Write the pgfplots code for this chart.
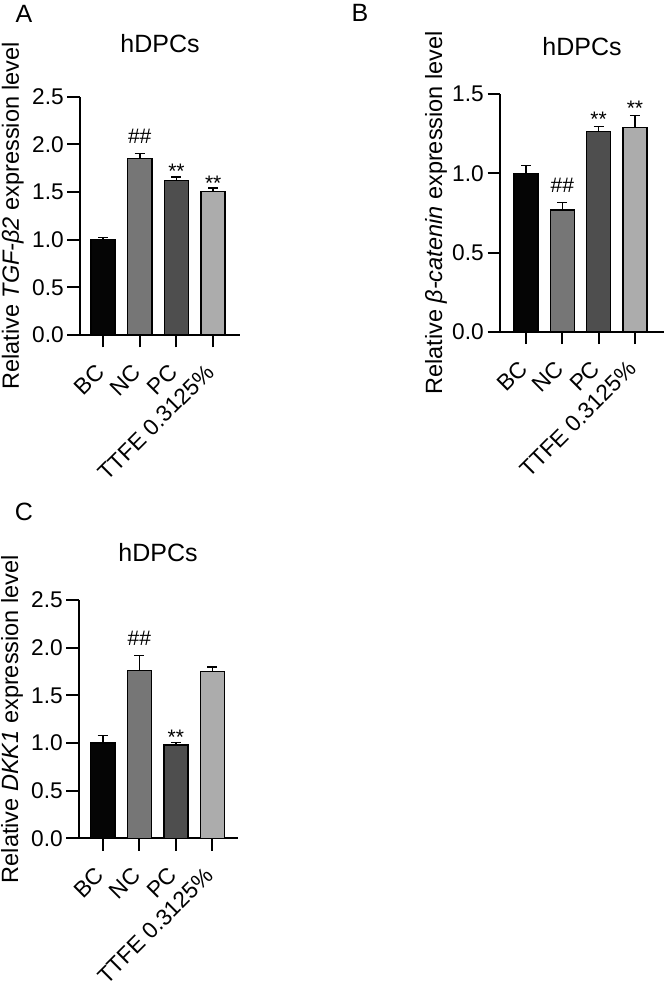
\documentclass[border=0pt]{standalone}
\usepackage{fontspec}
\setmainfont{Liberation Sans}
\usepackage{pgfplots}
\pgfplotsset{compat=1.18}
\definecolor{cBC}{RGB}{5,5,5}
\definecolor{cNC}{RGB}{118,118,118}
\definecolor{cPC}{RGB}{78,78,78}
\definecolor{cTT}{RGB}{172,172,172}
\newcommand\tickf{\fontsize{22.7}{25}\selectfont}
\newcommand\labf{\fontsize{23.5}{26}\selectfont}
\newcommand\titf{\fontsize{25}{28}\selectfont}
\newcommand\annf{\fontsize{21}{24}\selectfont}
\pgfplotsset{
  panel/.style={
    scale only axis, anchor=south west,
    axis x line*=bottom, axis y line*=left,
    axis line style={line width=2pt, black},
    tick align=outside, major tick length=12.5pt,
    every tick/.style={line width=2pt, black},
    ymin=0,
    xtick={0,1,2,3},
    xticklabels={BC,NC,PC,TTFE 0.3125\%},
    xticklabel style={xshift=-2pt, yshift=-20pt, rotate=45, anchor=east, font=\tickf, inner sep=1pt},
    yticklabel style={font=\tickf, inner sep=1pt, xshift=-2.5pt},
    /pgf/number format/assume math mode=true,
    /pgf/number format/.cd, fixed, fixed zerofill, precision=1, /pgfplots/.cd,
    ylabel style={font=\labf},
    clip=false,
  },
  mybar/.style={ybar, bar width=24pt, bar shift=0pt, draw=black, line width=1.5pt,
    error bars/y dir=plus, error bars/y explicit,
    error bars/error bar style={line width=1.5pt, black},
    error bars/error mark options={black, line width=1.5pt, mark size=5pt, rotate=90}},
}
\begin{document}
\begin{tikzpicture}
\useasboundingbox (0,0) rectangle (664pt,981pt);
% Panel A
\node[font=\titf] at (24pt,967pt) {A};
\node[font=\titf] at (160pt,937pt) {hDPCs};
\begin{axis}[panel, at={(80pt,646pt)}, width=160pt, height=238.3pt,
  xmin=-0.627, xmax=3.73, ymax=2.5, ytick={0,0.5,1,1.5,2,2.5},
  ylabel={Relative \textit{TGF-β2} expression level},
  ylabel style={at={(axis description cs:-0.42,0.5)}, anchor=center}]
\addplot[mybar, fill=cBC] coordinates {(0,1.00) +- (0,0.025)};
\addplot[mybar, fill=cNC] coordinates {(1,1.85) +- (0,0.055)};
\addplot[mybar, fill=cPC] coordinates {(2,1.62) +- (0,0.04)};
\addplot[mybar, fill=cTT] coordinates {(3,1.505) +- (0,0.035)};
\node[font=\annf, anchor=base, yshift=10pt] at (axis cs:1,1.905) {\#\#};
\node[font=\annf, anchor=base, yshift=-2pt] at (axis cs:2,1.66) {**};
\node[font=\annf, anchor=base, yshift=-2pt] at (axis cs:3,1.54) {**};
\end{axis}
% Panel B
\node[font=\titf] at (360pt,968pt) {B};
\node[font=\titf] at (582pt,934pt) {hDPCs};
\begin{axis}[panel, at={(500pt,649.3pt)}, width=164pt, height=237.4pt,
  xmin=-0.716, xmax=3.80, ymax=1.5, ytick={0,0.5,1,1.5},
  ylabel={Relative \textit{β-catenin} expression level},
  ylabel style={at={(axis description cs:-0.39,0.5)}, anchor=center}]
\addplot[mybar, fill=cBC] coordinates {(0,1.00) +- (0,0.05)};
\addplot[mybar, fill=cNC] coordinates {(1,0.77) +- (0,0.045)};
\addplot[mybar, fill=cPC] coordinates {(2,1.265) +- (0,0.03)};
\addplot[mybar, fill=cTT] coordinates {(3,1.29) +- (0,0.075)};
\node[font=\annf, anchor=base, yshift=10pt] at (axis cs:1,0.815) {\#\#};
\node[font=\annf, anchor=base, yshift=0pt] at (axis cs:2,1.295) {**};
\node[font=\annf, anchor=base, yshift=0pt] at (axis cs:3,1.365) {**};
\end{axis}
% Panel C
\node[font=\titf] at (24pt,469pt) {C};
\node[font=\titf] at (158pt,428pt) {hDPCs};
\begin{axis}[panel, at={(79pt,142.7pt)}, width=159.3pt, height=238.3pt,
  xmin=-0.65, xmax=3.71, ymax=2.5, ytick={0,0.5,1,1.5,2,2.5},
  ylabel={Relative \textit{DKK1} expression level},
  ylabel style={at={(axis description cs:-0.42,0.5)}, anchor=center}]
\addplot[mybar, fill=cBC] coordinates {(0,1.00) +- (0,0.08)};
\addplot[mybar, fill=cNC] coordinates {(1,1.76) +- (0,0.16)};
\addplot[mybar, fill=cPC] coordinates {(2,0.98) +- (0,0.025)};
\addplot[mybar, fill=cTT] coordinates {(3,1.75) +- (0,0.045)};
\node[font=\annf, anchor=base, yshift=10pt] at (axis cs:1,1.92) {\#\#};
\node[font=\annf, anchor=base, yshift=-2pt] at (axis cs:2,1.005) {**};
\end{axis}
\end{tikzpicture}
\end{document}
